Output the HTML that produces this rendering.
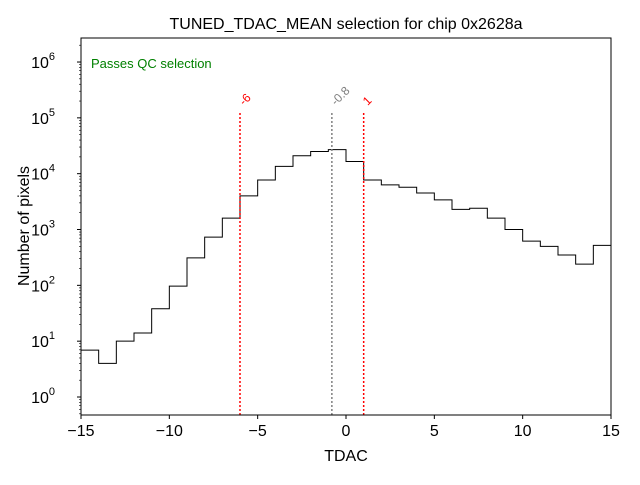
<!DOCTYPE html>
<html><head><meta charset="utf-8"><style>body{margin:0;background:#fff}svg{font-family:"Liberation Sans","DejaVu Sans",sans-serif}</style></head>
<body>
<svg id="chart" width="640" height="480" viewBox="0 0 640 480">
<rect width="640" height="480" fill="#fff"/>
<g id="plot"></g>
</svg>
<script>
const binEdges=[-15,-14,-13,-12,-11,-10,-9,-8,-7,-6,-5,-4,-3,-2,-1,0,1,2,3,4,5,6,7,8,9,10,11,12,13,14,15];
const counts=[6.9,4,10,14,38,97,310,730,1600,4000,7700,13500,21000,25000,27000,16500,7700,6300,5700,4500,3400,2300,2400,1600,1000,620,500,350,240,520];
const xTicks=[-15,-10,-5,0,5,10,15];
const yTicks=[0,1,2,3,4,5,6];
const cutValues=[-6,-0.8,1];
const cutLabels=["-6","-0.8","1"];
const cutColors=["red","grey","red"];
const L=81,R=611,T=38,B=415;
const x=v=>L+(v+15)/30*(R-L);
const y=c=>397-Math.log10(c)*55.83;
const ns="http://www.w3.org/2000/svg";
const g=document.getElementById('plot');
function mk(t,a,p){const e=document.createElementNS(ns,t);for(const k in a)e.setAttribute(k,a[k]);(p||g).appendChild(e);return e;}
// step line
let d="";
counts.forEach((c,i)=>{const yy=y(c);d+=(i===0?"M"+x(binEdges[0])+","+B+" L"+x(binEdges[0])+","+yy:" L"+x(binEdges[i])+","+yy)+" L"+x(binEdges[i+1])+","+yy;});
d+=" L"+x(binEdges[binEdges.length-1])+","+B;
const h=mk('path',{d:d,fill:"none",stroke:"#000","stroke-width":1});


// cut lines
cutValues.forEach((v,i)=>{
 const l=mk('line',{x1:x(v),x2:x(v),y1:B,y2:113,stroke:cutColors[i],"stroke-width":1.5,"stroke-dasharray":"2,2"});
 
 
 const t=mk('text',{x:x(v)+4,y:106,fill:cutColors[i],"font-size":12,transform:`rotate(-45 ${x(v)+4} 106)`});
 t.textContent=cutLabels[i];
 
 
});
// frame
const f=mk('rect',{x:L,y:T,width:R-L,height:B-T,fill:"none",stroke:"#000","stroke-width":1});


xTicks.forEach(v=>{
 mk('line',{x1:x(v),x2:x(v),y1:B,y2:B+4,stroke:"#000"});
 const t=mk('text',{x:x(v),y:B+21,"font-size":16,"text-anchor":"middle"});
 t.textContent=(v<0?"\u2212"+(-v):v);
 
 
});
yTicks.forEach(p=>{
 const yy=y(Math.pow(10,p));
 mk('line',{x1:L-4,x2:L,y1:yy,y2:yy,stroke:"#000"});
 for(let m=2;m<10;m++){const ym=y(m*Math.pow(10,p));if(ym>T&&ym<B)mk('line',{x1:L-2,x2:L,y1:ym,y2:ym,stroke:"#000","stroke-width":0.6});}
 const t=mk('text',{x:L-26,y:yy+6,"font-size":16,"text-anchor":"end"});
 t.textContent="10";
 mk('tspan',{dy:-8,"font-size":11},t).textContent=p;
 
 
});
// lower minor ticks (below 1)
for(let m=5;m<10;m++){const ym=y(m/10);if(ym<B)mk('line',{x1:L-2,x2:L,y1:ym,y2:ym,stroke:"#000","stroke-width":0.6});}
function txt(s,a,n){const t=mk('text',a);t.textContent=s;}
txt("TUNED_TDAC_MEAN selection for chip 0x2628a",{x:346,y:29,"font-size":16,"text-anchor":"middle"},"chart-title");
txt("TDAC",{x:346,y:461,"font-size":16,"text-anchor":"middle"},"x-axis-title");
txt("Number of pixels",{x:29,y:226,"font-size":16,"text-anchor":"middle",transform:"rotate(-90 29 226)"},"y-axis-title");
txt("Passes QC selection",{x:91,y:68,"font-size":13,fill:"green"},"qc-status-text");
</script>
</body></html>
